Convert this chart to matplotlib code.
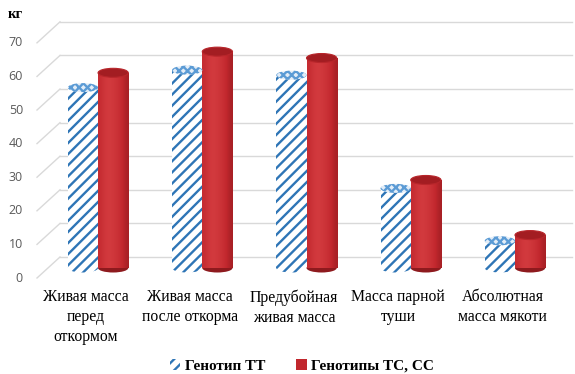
import numpy as np
import matplotlib
matplotlib.use('Agg')
from matplotlib import pyplot as plt
from matplotlib.patches import Ellipse, Patch
from matplotlib.transforms import ScaledTranslation
from matplotlib.colors import LinearSegmentedColormap

#### DATA ####
categories = ['Живая масса\nперед\nоткормом', 'Живая масса\nпосле откорма',
              'Предубойная\nживая масса', 'Масса парной\nтуши',
              'Абсолютная\nмасса мякоти']
tt_vals = [53.7, 58.9, 57.4, 23.7, 8.1]       # Генотип ТТ
tc_cc_vals = [58.1, 64.4, 62.5, 26.2, 9.8]    # Генотипы ТС, СС
yticks = [0, 10, 20, 30, 40, 50, 60, 70]
names = ['Генотип ТТ', 'Генотипы ТС, СС']

BLUE = '#2E75B6'
RED = '#C1272D'
RED_DARK = '#8E1A1E'
GRID = '#D9D9D9'

plt.rcParams['hatch.linewidth'] = 1.7

fig = plt.figure(figsize=(5.75, 3.74), dpi=100)
ax_h = 270
ax = fig.add_axes([60/575, 94/374, 512/575, ax_h/374])
ymin, ymax = -3.57, 76.8
upp = (ymax - ymin) / ax_h   # data units per pixel
ax.set_xlim(-0.365, 4.547)
ax.set_ylim(ymin, ymax)
ax.axis('off')

# back wall gridlines + perspective diagonals to the labels
back = 11 * upp
front = -10 * upp
xl = -23 / 512
for v in yticks:
    ax.plot([0, 1], [v + back, v + back], color=GRID, lw=1.0,
            transform=ax.get_yaxis_transform(), clip_on=False, zorder=0)
    ax.plot([xl, 0], [v + front, v + back], color=GRID, lw=1.0,
            transform=ax.get_yaxis_transform(), clip_on=False, zorder=0)
    ax.text(0, v + front, str(v), ha='right', va='center', fontsize=9,
            family='Open Sans', color='#595959',
            transform=ax.get_yaxis_transform() + ScaledTranslation(-0.37, 0, fig.dpi_scale_trans))

w = 0.29
eh = 9 * upp
x = np.arange(len(categories))

# blue hatched cylinders
for xi, v in zip(x - w/2, tt_vals):
    ax.add_patch(Ellipse((xi, 0), w, eh, facecolor='white', edgecolor=BLUE,
                         hatch='///', lw=0, zorder=2, clip_on=False))
    ax.bar(xi, v, w, facecolor='white', edgecolor=BLUE, hatch='///', lw=0, zorder=2)
    ax.add_patch(Ellipse((xi, v), w, eh, facecolor='#E3EDF7', edgecolor='#5B9BD5',
                         hatch='xxxx', lw=0, zorder=3))

# red shaded cylinders
grad = np.array([[0.75, 0.9, 1.0, 0.98, 0.9, 0.8, 0.65, 0.5]])
cmap = LinearSegmentedColormap.from_list('r', ['#6E1013', RED_DARK, RED, '#D23A3E'])
for xi, v in zip(x + w/2, tc_cc_vals):
    ax.add_patch(Ellipse((xi, 0), w, eh, facecolor=RED_DARK, lw=0, zorder=2, clip_on=False))
    bars = ax.bar(xi, v, w, facecolor=RED, lw=0, zorder=2)
    im = ax.imshow(grad, cmap=cmap, vmin=0, vmax=1, aspect='auto', interpolation='bicubic',
                   extent=(xi - w/2, xi + w/2, 0, v), zorder=2.5)
    im.set_clip_path(bars[0])
    ax.add_patch(Ellipse((xi, v), w, eh, facecolor='#A31D22', edgecolor='#B8262B',
                         lw=0.8, zorder=3))

ax.set_xlim(-0.365, 4.547)
ax.set_ylim(ymin, ymax)

# category labels
for xi, c in zip(x, categories):
    ax.text(xi - 0.12, ymin - 9 * upp, c, ha='center', va='top', fontsize=11.3,
            family='Liberation Serif', linespacing=1.35)

fig.text(8/575, 1 - 15/374, 'кг', fontsize=10.5, fontweight='bold',
         family='Liberation Serif', va='center')

handles = [Patch(facecolor='white', edgecolor=BLUE, hatch='///', lw=0),
           Patch(facecolor=RED, lw=0)]
fig.legend(handles, names, loc='center', bbox_to_anchor=(0.525, 1 - 366/374), ncol=2,
           frameon=False, handlelength=0.7, handleheight=0.7, handletextpad=0.3,
           columnspacing=2.0, prop={'family': 'Liberation Serif', 'weight': 'bold', 'size': 11})

fig.savefig('out.png', dpi=100)
